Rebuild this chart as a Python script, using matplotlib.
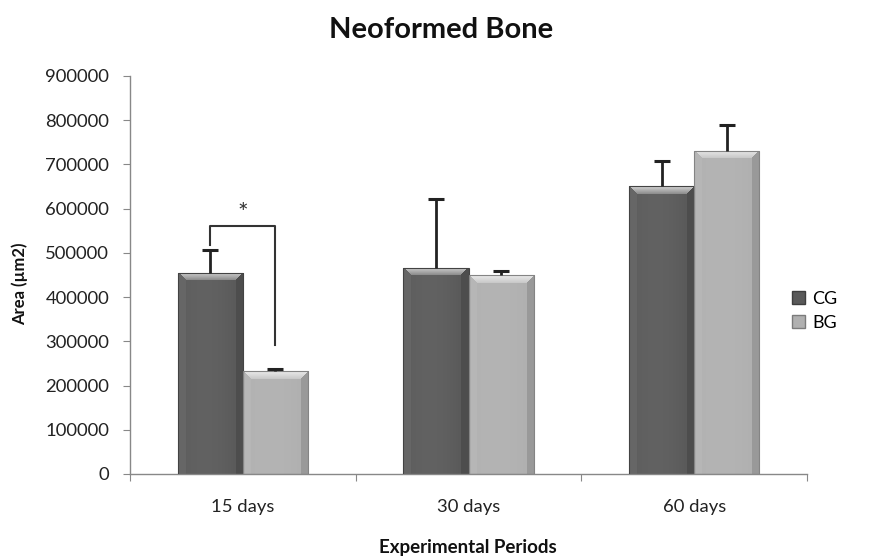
import numpy as np
import matplotlib
matplotlib.use("Agg")
import matplotlib.pyplot as plt
from matplotlib.patches import Patch, Rectangle

plt.rcParams["font.family"] = ["Lato", "DejaVu Sans"]

periods = ["15 days", "30 days", "60 days"]
groups = ["CG", "BG"]
cg_mean = [455000, 466000, 651000]
cg_err = [52000, 156000, 57000]
bg_mean = [232000, 449000, 731000]
bg_err = [6000, 11000, 59000]
yticks = [0, 100000, 200000, 300000, 400000, 500000, 600000, 700000, 800000, 900000]

base_colors = {"CG": (0.35, 0.35, 0.35), "BG": (0.69, 0.69, 0.69)}

fig = plt.figure(figsize=(8.85, 5.57), dpi=100)
ax = fig.add_axes([130 / 885, 83 / 557, 677 / 885, 398 / 557])
ax.set_xlim(-0.5, 2.5)
ax.set_ylim(0, 900000)

width = 0.289
x = np.arange(len(periods))


def lighten(c, t):
    return c + (1 - c) * t


def bevel_bar(x0, w, h, color):
    # bar with an Excel-like bevel, drawn as an image clipped to the bar
    rect = Rectangle((x0, 0), w, h, facecolor=color, edgecolor="none", zorder=2)
    ax.add_patch(rect)
    p0 = ax.transData.transform((x0, 0))
    p1 = ax.transData.transform((x0 + w, h))
    nx = max(int(round(p1[0] - p0[0])), 2)
    ny = max(int(round(p1[1] - p0[1])), 2)
    xx, yy = np.meshgrid(np.arange(nx) + 0.5, np.arange(ny) + 0.5)  # yy=0 at top
    c = np.array(color)
    b = 8.0
    rgb = np.ones((ny, nx, 3)) * c
    t = 0.05 * np.cos((xx / nx - 0.4) * np.pi)
    rgb = lighten(rgb, t[..., None])
    d_left, d_right, d_top = xx, nx - xx, yy
    left = (d_left < b) & (d_left <= d_top) & (d_left <= d_right)
    right = (d_right < b) & (d_right <= d_top) & (d_right < d_left)
    top = (d_top < b) & (d_top < d_left) & (d_top < d_right)
    rgb[left] = lighten(c, 0.08)
    rgb[right] = c * 0.87
    tt = 0.45 * (1 - d_top / b) + 0.3
    rgb[top] = lighten(c[None, :], tt[top][:, None])
    im = ax.imshow(np.clip(rgb, 0, 1), extent=(x0, x0 + w, 0, h), origin="upper",
                   aspect="auto", zorder=2.5, interpolation="nearest")
    im.set_clip_path(rect)
    edge = Rectangle((x0, 0), w, h, facecolor="none",
                     edgecolor=tuple(c * 0.75), linewidth=0.8, zorder=3)
    ax.add_patch(edge)


for i in range(len(periods)):
    bevel_bar(x[i] - width, width, cg_mean[i], base_colors["CG"])
    bevel_bar(x[i], width, bg_mean[i], base_colors["BG"])

# upper-only error bars
for xs, m, e in [(x - width / 2, cg_mean, cg_err), (x + width / 2, bg_mean, bg_err)]:
    tops = np.array(m) + np.array(e)
    ax.vlines(xs, m, tops, color="#222222", linewidth=2, zorder=4)
    ax.plot(xs, tops, linestyle="none", marker="_", markersize=11,
            markeredgewidth=2.2, color="#222222", zorder=4)

# significance bracket for 15 days
bx1, bx2 = x[0] - width / 2, x[0] + width / 2
ax.plot([bx1, bx1, bx2, bx2], [518000, 561000, 561000, 292000],
        color="#333333", linewidth=1.5, zorder=4)
ax.text(x[0], 562000, "*", ha="center", va="bottom", fontsize=18, color="#333333")

ax.set_yticks(yticks)
ax.set_yticklabels([str(v) for v in yticks], fontsize=13.3, color="#222222")
ax.set_xticks([-0.5, 0.5, 1.5, 2.5])
ax.set_xticklabels([])
ax.set_xticks(x, minor=True)
ax.set_xticklabels(periods, minor=True, fontsize=13.3, color="#222222")
ax.tick_params(axis="x", which="minor", length=0, pad=18)
ax.tick_params(axis="x", which="major", length=5, direction="out", color="#888888")
ax.tick_params(axis="y", length=5, direction="out", color="#888888", pad=10)
for s in ["top", "right"]:
    ax.spines[s].set_visible(False)
for s in ["left", "bottom"]:
    ax.spines[s].set_color("#888888")
    ax.spines[s].set_linewidth(1.0)

fig.text(441 / 885, 1 - 30 / 557, "Neoformed Bone", ha="center", va="center",
         fontsize=21, fontweight="bold", color="#111111")
fig.text(468 / 885, 1 - 547 / 557, "Experimental Periods", ha="center", va="center",
         fontsize=13.5, fontweight="bold", color="#111111")
fig.text(20 / 885, 1 - 284 / 557, "Area (µm2)", ha="center", va="center",
         rotation=90, fontsize=12, fontweight="bold", color="#111111")

handles = [Patch(facecolor=base_colors[g], edgecolor=tuple(np.array(base_colors[g]) * 0.7),
                 label=g) for g in groups]
fig.legend(handles=handles, loc="center left", bbox_to_anchor=(776 / 885, 1 - 311 / 557),
           frameon=False, fontsize=13, handlelength=0.7, handleheight=0.7,
           handletextpad=0.4, labelspacing=0.45)

fig.savefig("out.png", dpi=100)
